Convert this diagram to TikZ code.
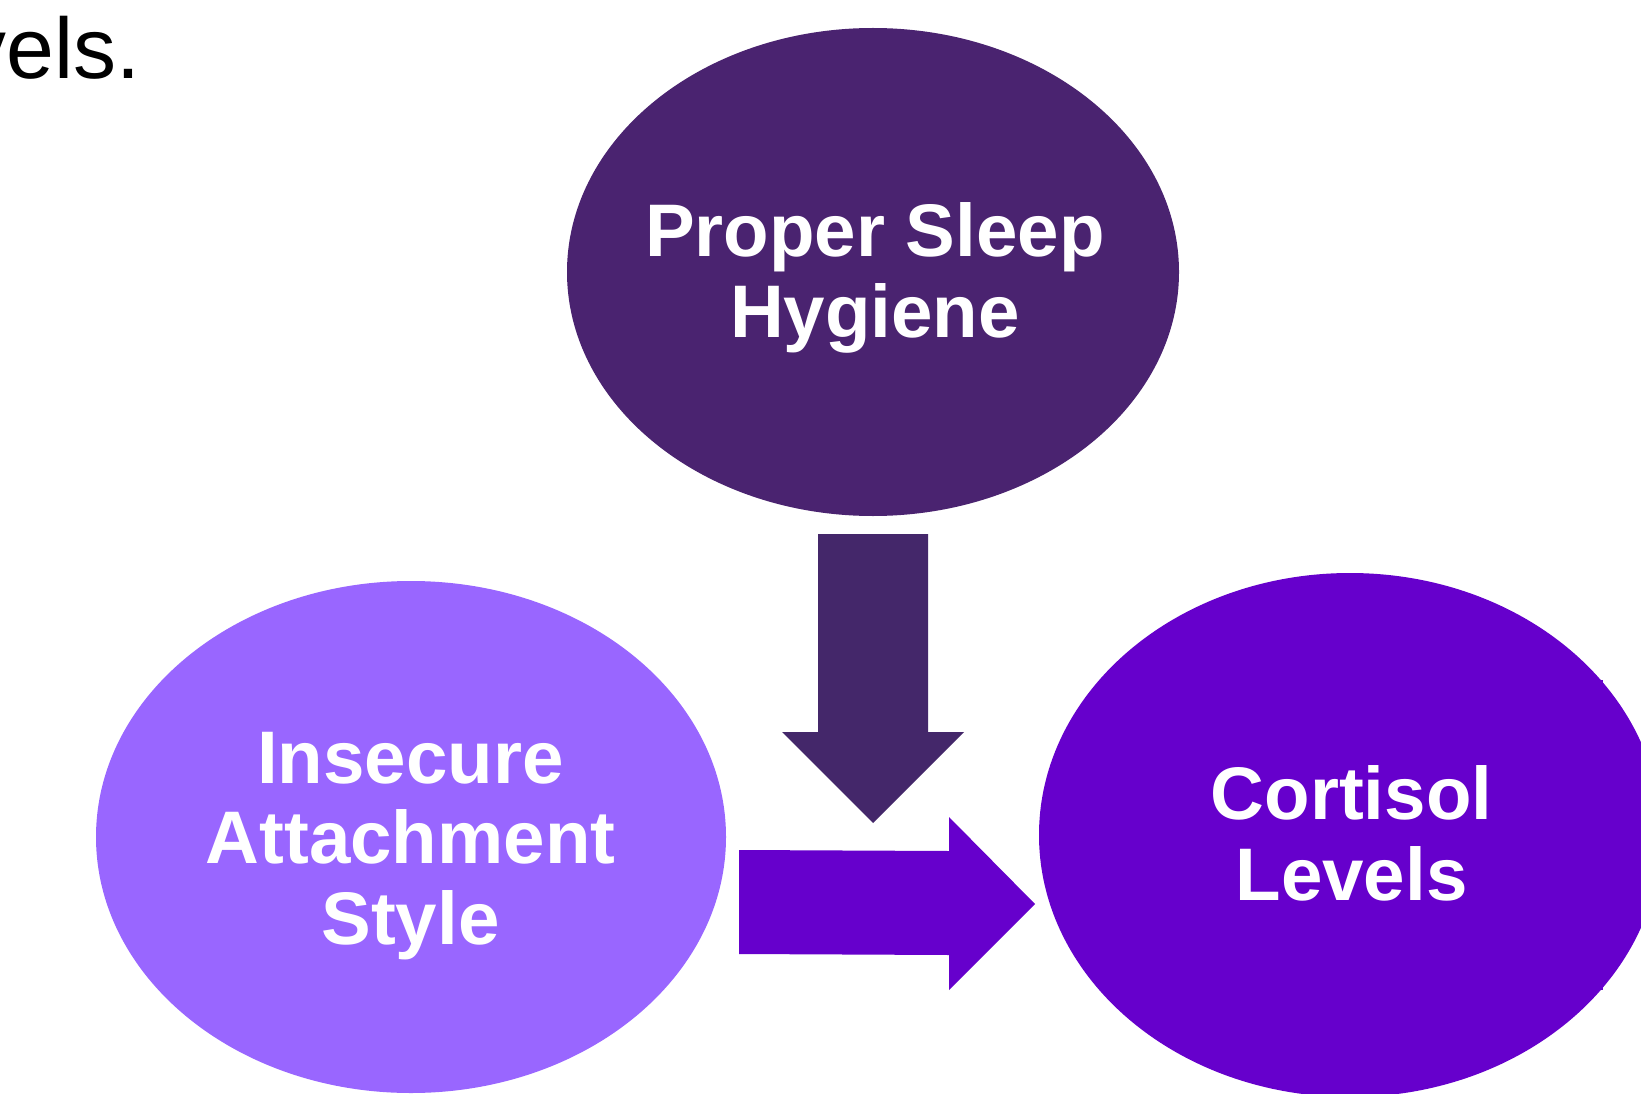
\documentclass[tikz,border=0pt]{standalone}
\usepackage{fontspec}
\setmainfont{Liberation Sans}
\usetikzlibrary{shapes.geometric}
\definecolor{topc}{RGB}{74,35,112}
\definecolor{downc}{RGB}{68,39,106}
\definecolor{leftc}{RGB}{153,102,255}
\definecolor{rightc}{RGB}{102,0,204}
\tikzset{
  blob/.style={ellipse, inner sep=0pt, outer sep=0pt, draw=none},
  label/.style={text=white, align=center, font=\fontsize{74.5}{80.5}\selectfont\bfseries, inner sep=0pt},
}
\begin{document}
\begin{tikzpicture}[x=1pt,y=-1pt]
\useasboundingbox (0,0) rectangle (1641,1094);
\clip (0,0) rectangle (1641,1094);
\fill[white] (0,0) rectangle (1641,1094);
% partial heading text
\node[anchor=base east, inner sep=0pt, font=\fontsize{86}{100}\selectfont] (head) at (141,79) {vels.};
% ellipses
\node[blob, fill=topc, minimum width=612pt, minimum height=488pt] (sleep) at (873,272) {};
\node[blob, fill=leftc, minimum width=630pt, minimum height=512pt] (attach) at (411,837) {};
\node[blob, fill=rightc, minimum width=622pt, minimum height=524pt] (cort) at (1350,835) {};
% small marks at right
\fill[rightc] (1599,680) rectangle (1603,694);
\fill[rightc] (1599,976) rectangle (1603,990);
% block arrows
\fill[downc] (818,534) -- (928,534) -- (928,732) -- (964,732) -- (873,823) -- (782,732) -- (818,732) -- cycle;
\fill[rightc] (739,850) -- (949,851) -- (949,817) -- (1035,904) -- (949,990) -- (949,955) -- (739,954) -- cycle;
% labels
\node[label] (sleeptxt) at (875,278) {Proper Sleep\\Hygiene};
\node[label] (attachtxt) at (410.5,846) {Insecure\\Attachment\\Style};
\node[label] (corttxt) at (1351.5,833.5) {Cortisol\\Levels};
\end{tikzpicture}
\end{document}
